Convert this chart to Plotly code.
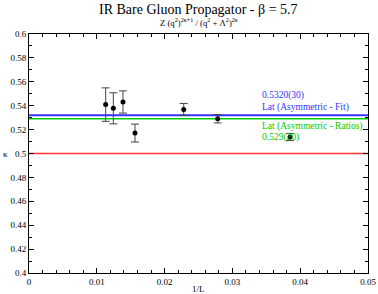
import plotly.graph_objects as go

# data
inv_L = [0.01131, 0.01244, 0.01386, 0.01563, 0.02282, 0.02783, 0.03850]
kappa = [0.5409, 0.5378, 0.5431, 0.5171, 0.5369, 0.5291, 0.5138]
kappa_err = [0.0140, 0.0130, 0.0093, 0.0075, 0.0050, 0.0035, 0.0030]

fit_value = 0.5320
ratios_value = 0.529
reference_value = 0.5

x_range = [0, 0.05]
y_range = [0.4, 0.6]

serif = "Liberation Serif"

fig = go.Figure()

fig.add_trace(go.Scatter(x=x_range, y=[fit_value, fit_value], mode="lines",
                         line=dict(color="#3333ff", width=2), showlegend=False, hoverinfo="skip"))
fig.add_trace(go.Scatter(x=x_range, y=[ratios_value, ratios_value], mode="lines",
                         line=dict(color="#00cc00", width=1.5), showlegend=False, hoverinfo="skip"))
fig.add_trace(go.Scatter(x=x_range, y=[reference_value, reference_value], mode="lines",
                         line=dict(color="#ff3333", width=1.5), showlegend=False, hoverinfo="skip"))

fig.add_trace(go.Scatter(
    x=inv_L, y=kappa, mode="markers",
    marker=dict(color="black", size=5),
    error_y=dict(type="data", array=kappa_err, color="#444444", thickness=1, width=4),
    showlegend=False))

anns = [
    dict(x=0.5, y=1.0, xref="paper", yref="paper", yanchor="middle", yshift=25,
         text="IR Bare Gluon Propagator - β = 5.7", font=dict(size=14)),
    dict(x=0.5, y=1.0, xref="paper", yref="paper", yanchor="middle", yshift=12,
         text="Z (q<sup>2</sup>)<sup>2κ+1</sup> / (q<sup>2</sup> + Λ<sup>2</sup>)<sup>2κ</sup>",
         font=dict(size=8.7)),
    dict(x=0, y=0.5, xref="paper", yref="paper", xanchor="center", xshift=-24,
         text="κ", font=dict(size=9)),
    dict(x=0.5, y=0, xref="paper", yref="paper", yanchor="middle", yshift=-16,
         text="1/L", font=dict(size=9)),
    dict(x=0.0341, y=0.5484, xanchor="left", text="0.5320(30)", font=dict(size=9.5, color="#3333ff")),
    dict(x=0.0341, y=0.5381, xanchor="left", text="Lat (Asymmetric - Fit)", font=dict(size=9.5, color="#3333ff")),
    dict(x=0.0341, y=0.5227, xanchor="left", text="Lat (Asymmetric - Ratios)", font=dict(size=9.5, color="#00cc00")),
    dict(x=0.0341, y=0.5138, xanchor="left", text="0.529(20)", font=dict(size=9.5, color="#00cc00")),
]
for a in anns:
    a.setdefault("showarrow", False)
    a.setdefault("xref", "x")
    a.setdefault("yref", "y")
    fig.add_annotation(**a)

axis_common = dict(showline=True, linecolor="black", linewidth=1, mirror="ticks",
                   ticks="inside", ticklen=5, tickcolor="black", showgrid=False,
                   zeroline=False, automargin=False, tickfont=dict(size=9, family=serif))

fig.update_xaxes(range=x_range, dtick=0.01,
                 minor=dict(dtick=0.002, ticks="inside", ticklen=3, tickcolor="black"),
                 **axis_common)
fig.update_yaxes(range=y_range, dtick=0.02,
                 minor=dict(dtick=0.01, ticks="inside", ticklen=3, tickcolor="black"),
                 **axis_common)

fig.update_layout(width=378, height=294,
                  margin=dict(l=29, r=10, t=34, b=21, autoexpand=False),
                  paper_bgcolor="white", plot_bgcolor="white",
                  font=dict(family=serif, color="black"))

fig.write_html("out.html", config={"displayModeBar": False},
               post_script="document.body.style.margin='0';")
